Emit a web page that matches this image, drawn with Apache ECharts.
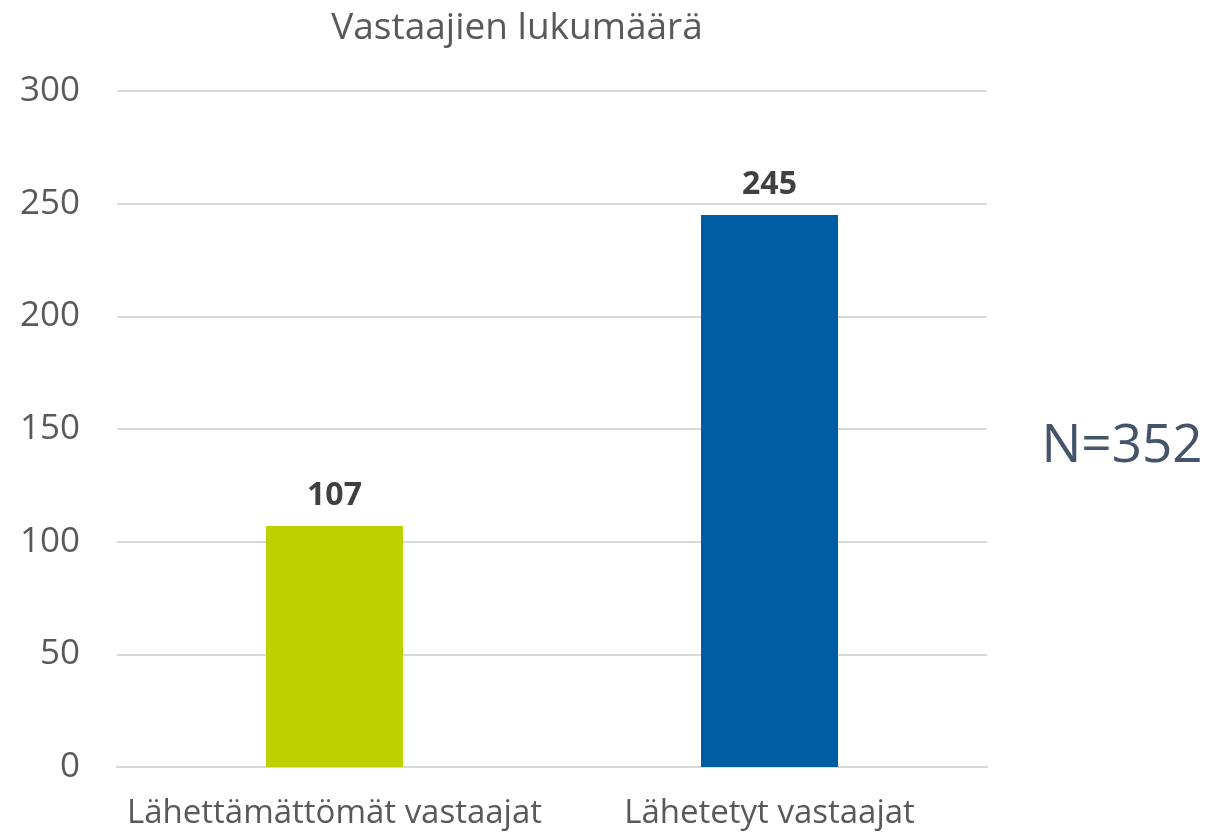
<!DOCTYPE html>
<html><head><meta charset="utf-8">
<script src="https://cdn.jsdelivr.net/npm/echarts@6/dist/echarts.min.js"></script>
<style>html,body{margin:0;padding:0;background:#fff}#c{width:1228px;height:834px}</style>
</head><body><div id="c"></div>
<script>
const categories = ['Lähettämättömät vastaajat', 'Lähetetyt vastaajat'];
const values = [107, 245];
const barColors = ['#BDD000', '#005DA4'];
const chartTitle = 'Vastaajien lukumäärä';
const noteText = 'N=352';

const chart = echarts.init(document.getElementById('c'));
chart.setOption({
  backgroundColor: '#fff',
  textStyle: { fontFamily: 'Open Sans' },
  title: [
    { text: chartTitle, left: 512, top: 5, textAlign: 'center',
      textStyle: { fontFamily: 'Open Sans', fontSize: 37, fontWeight: 'normal', color: '#595959' } },
    { text: noteText, left: 1117, top: 415, textAlign: 'center',
      textStyle: { fontFamily: 'Open Sans', fontSize: 53, fontWeight: 'normal', color: '#44546A' } }
  ],
  grid: { left: 117, right: 241, top: 91, bottom: 67, containLabel: false },
  xAxis: {
    type: 'category', data: categories,
    axisLine: { show: true, lineStyle: { color: '#d9d9d9', width: 2 } },
    axisTick: { show: false },
    axisLabel: { color: '#595959', fontSize: 33, fontFamily: 'Open Sans', margin: 30, interval: 0 }
  },
  yAxis: {
    type: 'value', min: 0, max: 300, interval: 50,
    axisLine: { show: false }, axisTick: { show: false },
    splitLine: { lineStyle: { color: '#d9d9d9', width: 2 } },
    axisLabel: { color: '#595959', fontSize: 35, fontFamily: 'Open Sans', margin: 37,
      verticalAlign: 'middle', padding: [8, 0, 0, 0] }
  },
  series: [{
    type: 'bar', barWidth: 137,
    data: values.map((v, i) => ({ value: v, itemStyle: { color: barColors[i] } })),
    label: { show: true, position: 'top', distance: 14, color: '#404040',
      fontSize: 32, fontWeight: 'bold', fontFamily: 'Open Sans' }
  }]
});
</script></body></html>
